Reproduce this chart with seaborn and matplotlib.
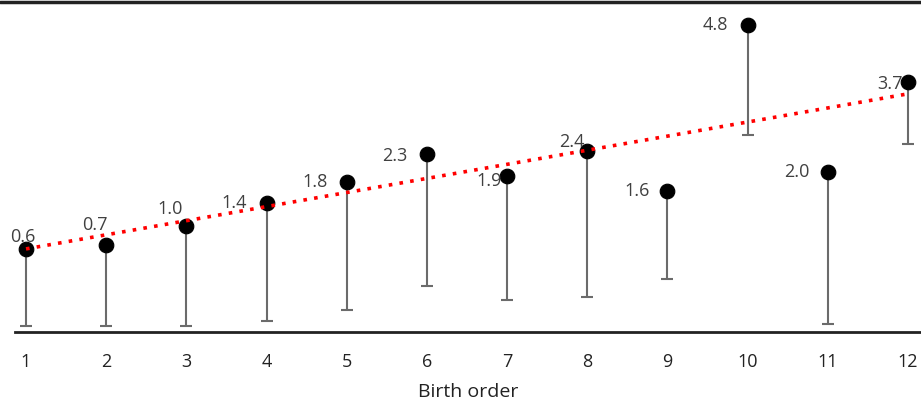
import numpy as np
import pandas as pd
import matplotlib
matplotlib.use('Agg')
import matplotlib.pyplot as plt
import seaborn as sns
from matplotlib.lines import Line2D

# data
birth_order = [1, 2, 3, 4, 5, 6, 7, 8, 9, 10, 11, 12]
values = [0.60, 0.69, 1.03, 1.45, 1.85, 2.36, 1.96, 2.43, 1.68, 4.76, 2.03, 3.69]
err_low = [1.41, 1.50, 1.85, 2.18, 2.38, 2.43, 2.30, 2.71, 1.63, 2.04, 2.81, 1.14]
labels = ['0.6', '0.7', '1.0', '1.4', '1.8', '2.3', '1.9', '2.4', '1.6', '4.8', '2.0', '3.7']

# label offsets (points) relative to each marker
lab_dx = [-2, -8, -12, -23, -23, -23, -13, -11, -22, -23, -22, -13]
lab_dy = [9, 14, 12.5, 0, 0, -1, -4, 6, 0, 0, 0, -1]

df = pd.DataFrame({'order': birth_order, 'value': values})

sns.set_style('white')
plt.rcParams['font.family'] = ['Open Sans', 'DejaVu Sans']

fig = plt.figure(figsize=(9.21, 4.01), dpi=100)
ax = fig.add_axes([15 / 921, 69 / 401, 906 / 921, 330 / 401])

ax.errorbar(df['order'], df['value'], yerr=[err_low, np.zeros(len(values))],
            fmt='none', ecolor='#6b6b6b', elinewidth=1.5, capsize=4.5, capthick=1.5, zorder=1)
sns.scatterplot(data=df, x='order', y='value', color='black', s=110,
                edgecolor='black', ax=ax, zorder=2, legend=False)
sns.regplot(data=df, x='order', y='value', scatter=False, ci=None, ax=ax,
            line_kws=dict(color='red', linestyle=(0, (1, 2)), linewidth=2.6, zorder=3))

for xv, yv, t, dx, dy in zip(birth_order, values, labels, lab_dx, lab_dy):
    ax.annotate(t, (xv, yv), xytext=(dx, dy), textcoords='offset points',
                ha='center', va='center', fontsize=13, color='#404040', zorder=4)

ax.set_xlim(1 - 11 / 80.18, 12 + 13 / 80.18)
ax.set_ylim(-0.93, 5.18)
ax.set_xticks(birth_order)
ax.set_xticklabels([str(b) for b in birth_order], fontsize=13, color='#222222')
ax.set_yticks([])
ax.set_xlabel('Birth order', fontsize=14, color='#222222', labelpad=9)
ax.set_ylabel('')
ax.tick_params(axis='x', length=0, pad=15)
for s in ['left', 'right', 'top']:
    ax.spines[s].set_visible(False)
ax.spines['bottom'].set_color('#222222')
ax.spines['bottom'].set_linewidth(2)

# top border line spanning the full width
fig.add_artist(Line2D([0, 1], [1 - 2 / 401, 1 - 2 / 401], transform=fig.transFigure,
                      color='#222222', linewidth=2.5))

fig.savefig('out.png', dpi=100)
